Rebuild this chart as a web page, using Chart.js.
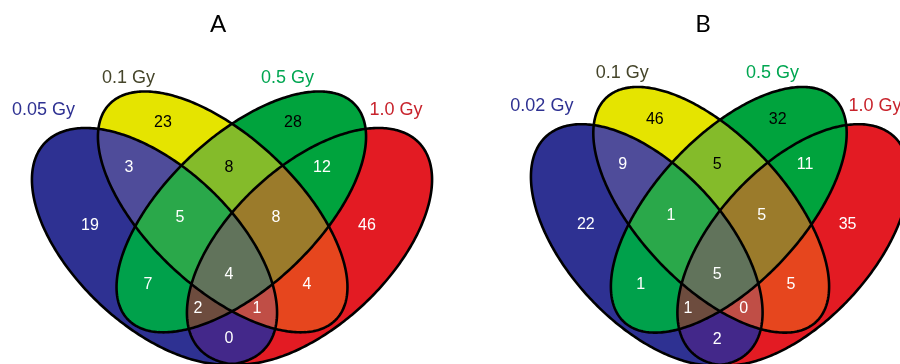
<!DOCTYPE html>
<html><head><meta charset="utf-8">
<script src="https://cdn.jsdelivr.net/npm/chart.js@4.4.0/dist/chart.umd.min.js"></script>
<style>
html,body{margin:0;padding:0;background:#fff;overflow:hidden;width:900px;height:364px;}
.panel{position:absolute;top:0;width:450px;height:364px;}
#panelA{left:-7px;} #panelB{left:478px;}
</style></head><body>
<div class="panel" id="panelA"><canvas id="chartA"></canvas></div>
<div class="panel" id="panelB"><canvas id="chartB"></canvas></div>
<script>
// Region order: single sets, pairs, triples, all four (A=low dose ... D=1.0 Gy)
const regionKeys = ['A','B','C','D','AB','BC','CD','AD','AC','BD','ABC','BCD','ACD','ABD','ABCD'];
const countsA = [19,23,28,46,3,8,12,0,7,4,5,8,2,1,4];
const countsB = [22,46,32,35,9,5,11,2,1,5,1,5,1,0,5];
const setNamesA = ['0.05 Gy','0.1 Gy','0.5 Gy','1.0 Gy'];
const setNamesB = ['0.02 Gy','0.1 Gy','0.5 Gy','1.0 Gy'];

// Layout (diagram units, origin at the centre crossing, y up)
const outerEllipse = {cx: -77.5, cy: -29.2, a: 150.6, b: 79.5, rotDeg: -43.17};
const innerEllipse = {cx: -9.3, cy: 5.1, a: 156.3, b: 75.1, rotDeg: -43.38};
const mirror = e => ({cx: -e.cx, cy: e.cy, a: e.a, b: e.b, rotDeg: -e.rotDeg});
const ellipses = [outerEllipse, innerEllipse, mirror(innerEllipse), mirror(outerEllipse)];
const labelAnchors = [[-142,-9],[-69,94],[61,94],[135,-9],[-103,49],[-3,49],[90,49],[-3,-122],[-84,-68],[75,-68],[-52,-1],[44,-1],[-34,-92],[25,-92],[-3,-58]];
const nameAnchors = [[-188.5,107],[-103.5,139],[55.5,139],[164,107]];

const regionColors = {A:'#2e3192',B:'#e5e400',C:'#00a33d',D:'#e31b23',AB:'#4f4c9a',BC:'#84bb2a',CD:'#00a33d',AD:'#43288a',AC:'#00a14b',BD:'#e6461e',ABC:'#2aa84a',BCD:'#9b7b2b',ACD:'#6d4c3e',ABD:'#c04e46',ABCD:'#61735b'};
const darkText = ['B','C','BC'];
const setColors = ['#2e3192','#45452a','#00a651','#c8232c'];
const SETS = 'ABCD';

function ellipsePath(chart, e) {
  const xs = chart.scales.x, ys = chart.scales.y;
  const p = new Path2D();
  const N = 360, rot = e.rotDeg * Math.PI / 180;
  const cr = Math.cos(rot), sr = Math.sin(rot);
  for (let i = 0; i < N; i++) {
    const t = i / N * 2 * Math.PI;
    const u = e.a * Math.cos(t), v = e.b * Math.sin(t);
    const px = xs.getPixelForValue(e.cx + u * cr - v * sr);
    const py = ys.getPixelForValue(e.cy + u * sr + v * cr);
    if (i) p.lineTo(px, py); else p.moveTo(px, py);
  }
  p.closePath();
  return p;
}

const vennPlugin = {
  id: 'venn',
  beforeDatasetsDraw(chart) {
    const ctx = chart.ctx, W = chart.width, H = chart.height;
    const paths = ellipses.map(e => ellipsePath(chart, e));
    // each region = inside its member sets, outside the others
    regionKeys.forEach(k => {
      ctx.save();
      for (let s = 0; s < 4; s++) {
        if (k.includes(SETS[s])) ctx.clip(paths[s]);
        else {
          const o = new Path2D();
          o.rect(-10, -10, W + 20, H + 20);
          o.addPath(paths[s]);
          ctx.clip(o, 'evenodd');
        }
      }
      ctx.fillStyle = regionColors[k];
      ctx.fillRect(0, 0, W, H);
      ctx.restore();
    });
    ctx.save();
    ctx.lineWidth = 2.6;
    ctx.strokeStyle = '#000';
    ctx.lineJoin = 'round';
    paths.forEach(p => ctx.stroke(p));
    ctx.restore();
  },
  afterDatasetsDraw(chart) {
    const ctx = chart.ctx;
    ctx.save();
    ctx.textAlign = 'center';
    ctx.textBaseline = 'middle';
    const m0 = chart.getDatasetMeta(0), m1 = chart.getDatasetMeta(1);
    ctx.font = '16px "Liberation Sans", Arial, sans-serif';
    m0.data.forEach((el, i) => {
      const d = chart.data.datasets[0].data[i];
      ctx.fillStyle = darkText.includes(d.key) ? '#000' : '#fff';
      ctx.fillText(String(d.count), el.x, el.y);
    });
    ctx.font = '18px "Liberation Sans", Arial, sans-serif';
    m1.data.forEach((el, i) => {
      const d = chart.data.datasets[1].data[i];
      ctx.fillStyle = setColors[i];
      ctx.fillText(d.name, el.x, el.y);
    });
    ctx.restore();
  }
};

function makeChart(id, title, counts, names, xr, yr) {
  return new Chart(document.getElementById(id), {
    type: 'scatter',
    data: {datasets: [
      {data: regionKeys.map((k, i) => ({x: labelAnchors[i][0], y: labelAnchors[i][1], key: k, count: counts[i]})), pointRadius: 0},
      {data: names.map((n, i) => ({x: nameAnchors[i][0], y: nameAnchors[i][1], name: n})), pointRadius: 0}
    ]},
    options: {
      responsive: true, maintainAspectRatio: false, animation: false, devicePixelRatio: 1, events: [],
      layout: {padding: 0},
      scales: {
        x: {type: 'linear', min: xr[0], max: xr[1], display: false},
        y: {type: 'linear', min: yr[0], max: yr[1], display: false}
      },
      plugins: {
        legend: {display: false},
        tooltip: {enabled: false},
        title: {display: true, text: title, color: '#000',
          font: {family: 'Lato', size: 24, weight: 'normal', lineHeight: '30px'},
          padding: {top: 9.5, bottom: 0.5}}
      }
    },
    plugins: [vennPlugin]
  });
}
makeChart('chartA', 'A', countsA, setNamesA, [-239, 211], [-147, 177]);
makeChart('chartB', 'B', countsB, setNamesB, [-256.08, 220.11], [-146.08, 171.57]);
</script></body></html>
